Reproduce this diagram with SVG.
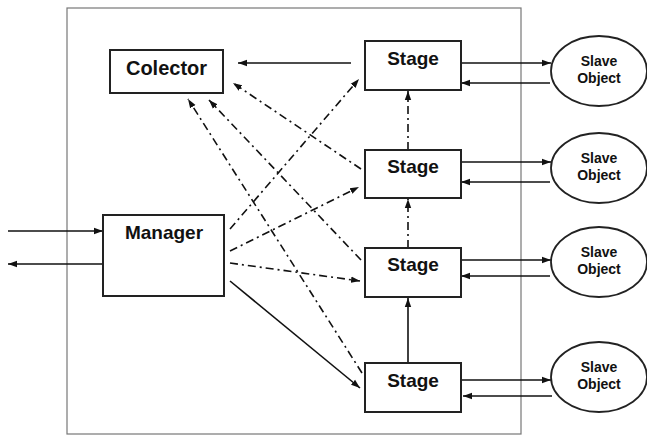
<svg xmlns="http://www.w3.org/2000/svg" width="647" height="435" viewBox="0 0 647 435">
<style>
.box{fill:#fff;stroke:#222;stroke-width:2}
.ell{fill:#fff;stroke:#222;stroke-width:1.8}
.t{font-family:"Liberation Sans",Arial,sans-serif;font-weight:bold;fill:#111;text-anchor:middle}
.big{font-size:19px}
.sm{font-size:14px}
.c{stroke:#111;stroke-width:1.6;fill:none}
.dd{stroke-dasharray:8 4 2 4}
</style>
<defs>
<marker id="ah" markerUnits="userSpaceOnUse" markerWidth="10" markerHeight="8" refX="9" refY="4" orient="auto">
<path d="M0,0.8 L9,4 L0,7.2 z" fill="#111"/>
</marker>
</defs>
<rect x="67" y="8" width="454" height="426" fill="none" stroke="#777" stroke-width="1.2"/>
<g id="connectors">
<line class="c" x1="8" y1="231" x2="103" y2="231" marker-end="url(#ah)"/>
<line class="c" x1="103" y1="264" x2="8" y2="264" marker-end="url(#ah)"/>
<line class="c" x1="351" y1="63" x2="238" y2="63" marker-end="url(#ah)"/>
<line class="c dd" x1="230" y1="229" x2="359" y2="79" marker-end="url(#ah)"/>
<line class="c dd" x1="230" y1="251" x2="359" y2="187" marker-end="url(#ah)"/>
<line class="c dd" x1="230" y1="263" x2="360" y2="281" marker-end="url(#ah)"/>
<line class="c" x1="230" y1="281" x2="360" y2="388" marker-end="url(#ah)"/>
<line class="c dd" x1="361" y1="169" x2="233" y2="83" marker-end="url(#ah)"/>
<line class="c dd" x1="361" y1="260" x2="209" y2="100" marker-end="url(#ah)"/>
<line class="c dd" x1="362" y1="373" x2="188" y2="99" marker-end="url(#ah)"/>
<line class="c dd" x1="408" y1="150" x2="408" y2="91" marker-end="url(#ah)"/>
<line class="c dd" x1="408" y1="248" x2="408" y2="199" marker-end="url(#ah)"/>
<line class="c" x1="408" y1="363" x2="408" y2="298" marker-end="url(#ah)"/>
<line class="c" x1="461" y1="63" x2="551" y2="63" marker-end="url(#ah)"/>
<line class="c" x1="550" y1="83" x2="461" y2="83" marker-end="url(#ah)"/>
<line class="c" x1="461" y1="162" x2="551" y2="162" marker-end="url(#ah)"/>
<line class="c" x1="550" y1="182" x2="461" y2="182" marker-end="url(#ah)"/>
<line class="c" x1="461" y1="260" x2="551" y2="260" marker-end="url(#ah)"/>
<line class="c" x1="550" y1="276" x2="461" y2="276" marker-end="url(#ah)"/>
<line class="c" x1="461" y1="380" x2="551" y2="380" marker-end="url(#ah)"/>
<line class="c" x1="552" y1="396" x2="463" y2="396" marker-end="url(#ah)"/>
</g>
<g id="colector">
<rect class="box" x="110" y="50" width="113" height="43"/>
<text class="t" x="166.5" y="75" font-size="20">Colector</text>
</g>
<g id="manager">
<rect class="box" x="103" y="215" width="121" height="81"/>
<text class="t big" x="164" y="239">Manager</text>
</g>
<g id="stage1">
<rect class="box" x="365" y="41" width="96" height="49"/>
<text class="t big" x="413" y="65">Stage</text>
</g>
<g id="stage2">
<rect class="box" x="365" y="150" width="96" height="48"/>
<text class="t big" x="413" y="173">Stage</text>
</g>
<g id="stage3">
<rect class="box" x="365" y="248" width="96" height="49"/>
<text class="t big" x="413" y="271">Stage</text>
</g>
<g id="stage4">
<rect class="box" x="365" y="363" width="96" height="49"/>
<text class="t big" x="413" y="387">Stage</text>
</g>
<g id="slave1">
<ellipse class="ell" cx="599" cy="71" rx="48" ry="35"/>
<text class="t sm" x="599" y="66">Slave</text>
<text class="t sm" x="599" y="83">Object</text>
</g>
<g id="slave2">
<ellipse class="ell" cx="599" cy="168" rx="48" ry="35"/>
<text class="t sm" x="599" y="163">Slave</text>
<text class="t sm" x="599" y="180">Object</text>
</g>
<g id="slave3">
<ellipse class="ell" cx="599" cy="262" rx="48" ry="35"/>
<text class="t sm" x="599" y="257">Slave</text>
<text class="t sm" x="599" y="274">Object</text>
</g>
<g id="slave4">
<ellipse class="ell" cx="599" cy="377" rx="48" ry="35"/>
<text class="t sm" x="599" y="372">Slave</text>
<text class="t sm" x="599" y="389">Object</text>
</g>
</svg>
